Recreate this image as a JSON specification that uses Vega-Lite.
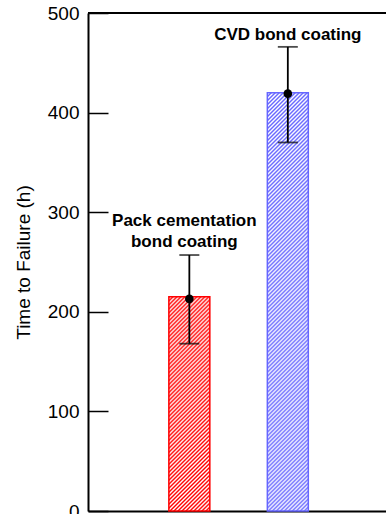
{
  "$schema": "https://vega.github.io/schema/vega-lite/v6.json",
  "width": 298,
  "height": 498,
  "autosize": {"type": "none"},
  "padding": {"left": 88, "top": 13, "right": 0, "bottom": 3},
  "background": "white",
  "config": {"view": {"stroke": null}, "font": "Liberation Sans"},
  "data": {
    "values": [
      {"coating": "Pack cementation bond coating", "label": "Pack cementation\nbond coating", "bar": 215, "mean": 213, "low": 168, "high": 257},
      {"coating": "CVD bond coating", "label": "CVD bond coating", "bar": 420, "mean": 419, "low": 370, "high": 466}
    ]
  },
  "layer": [
    {
      "transform": [{"filter": "datum.coating === 'Pack cementation bond coating'"}],
      "mark": {
        "type": "bar",
        "stroke": "#ff0000",
        "strokeWidth": 1.5,
        "fill": {
          "gradient": "linear", "x1": 0, "y1": 0, "x2": 0.2201, "y2": 1.1494,
          "stops": [
            {"offset":0,"color":"#f00"},{"offset":0.0078,"color":"#fff"},{"offset":0.0156,"color":"#f00"},{"offset":0.0234,"color":"#fff"},{"offset":0.0313,"color":"#f00"},{"offset":0.0391,"color":"#fff"},{"offset":0.0469,"color":"#f00"},{"offset":0.0547,"color":"#fff"},{"offset":0.0625,"color":"#f00"},{"offset":0.0703,"color":"#fff"},{"offset":0.0781,"color":"#f00"},{"offset":0.0859,"color":"#fff"},{"offset":0.0938,"color":"#f00"},{"offset":0.1016,"color":"#fff"},{"offset":0.1094,"color":"#f00"},{"offset":0.1172,"color":"#fff"},
            {"offset":0.125,"color":"#f00"},{"offset":0.1328,"color":"#fff"},{"offset":0.1406,"color":"#f00"},{"offset":0.1484,"color":"#fff"},{"offset":0.1563,"color":"#f00"},{"offset":0.1641,"color":"#fff"},{"offset":0.1719,"color":"#f00"},{"offset":0.1797,"color":"#fff"},{"offset":0.1875,"color":"#f00"},{"offset":0.1953,"color":"#fff"},{"offset":0.2031,"color":"#f00"},{"offset":0.2109,"color":"#fff"},{"offset":0.2188,"color":"#f00"},{"offset":0.2266,"color":"#fff"},{"offset":0.2344,"color":"#f00"},{"offset":0.2422,"color":"#fff"},
            {"offset":0.25,"color":"#f00"},{"offset":0.2578,"color":"#fff"},{"offset":0.2656,"color":"#f00"},{"offset":0.2734,"color":"#fff"},{"offset":0.2813,"color":"#f00"},{"offset":0.2891,"color":"#fff"},{"offset":0.2969,"color":"#f00"},{"offset":0.3047,"color":"#fff"},{"offset":0.3125,"color":"#f00"},{"offset":0.3203,"color":"#fff"},{"offset":0.3281,"color":"#f00"},{"offset":0.3359,"color":"#fff"},{"offset":0.3438,"color":"#f00"},{"offset":0.3516,"color":"#fff"},{"offset":0.3594,"color":"#f00"},{"offset":0.3672,"color":"#fff"},
            {"offset":0.375,"color":"#f00"},{"offset":0.3828,"color":"#fff"},{"offset":0.3906,"color":"#f00"},{"offset":0.3984,"color":"#fff"},{"offset":0.4063,"color":"#f00"},{"offset":0.4141,"color":"#fff"},{"offset":0.4219,"color":"#f00"},{"offset":0.4297,"color":"#fff"},{"offset":0.4375,"color":"#f00"},{"offset":0.4453,"color":"#fff"},{"offset":0.4531,"color":"#f00"},{"offset":0.4609,"color":"#fff"},{"offset":0.4688,"color":"#f00"},{"offset":0.4766,"color":"#fff"},{"offset":0.4844,"color":"#f00"},{"offset":0.4922,"color":"#fff"},
            {"offset":0.5,"color":"#f00"},{"offset":0.5078,"color":"#fff"},{"offset":0.5156,"color":"#f00"},{"offset":0.5234,"color":"#fff"},{"offset":0.5313,"color":"#f00"},{"offset":0.5391,"color":"#fff"},{"offset":0.5469,"color":"#f00"},{"offset":0.5547,"color":"#fff"},{"offset":0.5625,"color":"#f00"},{"offset":0.5703,"color":"#fff"},{"offset":0.5781,"color":"#f00"},{"offset":0.5859,"color":"#fff"},{"offset":0.5938,"color":"#f00"},{"offset":0.6016,"color":"#fff"},{"offset":0.6094,"color":"#f00"},{"offset":0.6172,"color":"#fff"},
            {"offset":0.625,"color":"#f00"},{"offset":0.6328,"color":"#fff"},{"offset":0.6406,"color":"#f00"},{"offset":0.6484,"color":"#fff"},{"offset":0.6563,"color":"#f00"},{"offset":0.6641,"color":"#fff"},{"offset":0.6719,"color":"#f00"},{"offset":0.6797,"color":"#fff"},{"offset":0.6875,"color":"#f00"},{"offset":0.6953,"color":"#fff"},{"offset":0.7031,"color":"#f00"},{"offset":0.7109,"color":"#fff"},{"offset":0.7188,"color":"#f00"},{"offset":0.7266,"color":"#fff"},{"offset":0.7344,"color":"#f00"},{"offset":0.7422,"color":"#fff"},
            {"offset":0.75,"color":"#f00"},{"offset":0.7578,"color":"#fff"},{"offset":0.7656,"color":"#f00"},{"offset":0.7734,"color":"#fff"},{"offset":0.7813,"color":"#f00"},{"offset":0.7891,"color":"#fff"},{"offset":0.7969,"color":"#f00"},{"offset":0.8047,"color":"#fff"},{"offset":0.8125,"color":"#f00"},{"offset":0.8203,"color":"#fff"},{"offset":0.8281,"color":"#f00"},{"offset":0.8359,"color":"#fff"},{"offset":0.8438,"color":"#f00"},{"offset":0.8516,"color":"#fff"},{"offset":0.8594,"color":"#f00"},{"offset":0.8672,"color":"#fff"},
            {"offset":0.875,"color":"#f00"},{"offset":0.8828,"color":"#fff"},{"offset":0.8906,"color":"#f00"},{"offset":0.8984,"color":"#fff"},{"offset":0.9063,"color":"#f00"},{"offset":0.9141,"color":"#fff"},{"offset":0.9219,"color":"#f00"},{"offset":0.9297,"color":"#fff"},{"offset":0.9375,"color":"#f00"},{"offset":0.9453,"color":"#fff"},{"offset":0.9531,"color":"#f00"},{"offset":0.9609,"color":"#fff"},{"offset":0.9688,"color":"#f00"},{"offset":0.9766,"color":"#fff"},{"offset":0.9844,"color":"#f00"},{"offset":0.9922,"color":"#fff"},
            {"offset":1,"color":"#f00"}
          ]
        }
      },
      "encoding": {
        "x": {
          "field": "coating",
          "type": "nominal",
          "sort": null,
          "scale": {"domain": ["Pack cementation bond coating", "CVD bond coating"], "paddingInner": 0.584, "paddingOuter": 0.805, "align": 0.51},
          "axis": {"orient": "bottom", "labels": false, "ticks": false, "title": null, "domainColor": "black", "domainWidth": 2}
        },
        "y": {
          "field": "bar",
          "type": "quantitative",
          "scale": {"domain": [0, 500], "nice": false, "zero": true},
          "axis": {
            "title": "Time to Failure (h)",
            "titleFontSize": 19,
            "titleFontWeight": "normal",
            "titleColor": "black",
            "titlePadding": 14,
            "values": [0, 100, 200, 300, 400, 500],
            "labelFontSize": 19,
            "labelColor": "black",
            "labelPadding": 29,
            "tickSize": -20,
            "tickWidth": 1.5,
            "tickColor": "black",
            "domainColor": "black",
            "domainWidth": 2,
            "grid": false
          }
        }
      }
    },
    {
      "transform": [{"filter": "datum.coating === 'CVD bond coating'"}],
      "mark": {
        "type": "bar",
        "stroke": "#6666ff",
        "strokeWidth": 1.5,
        "fill": {
          "gradient": "linear", "x1": 0, "y1": 0, "x2": 0.1066, "y2": 1.0876,
          "stops": [
            {"offset":0,"color":"#66f"},{"offset":0.0043,"color":"#fff"},{"offset":0.0087,"color":"#66f"},{"offset":0.013,"color":"#fff"},{"offset":0.0174,"color":"#66f"},{"offset":0.0217,"color":"#fff"},{"offset":0.0261,"color":"#66f"},{"offset":0.0304,"color":"#fff"},{"offset":0.0348,"color":"#66f"},{"offset":0.0391,"color":"#fff"},{"offset":0.0435,"color":"#66f"},{"offset":0.0478,"color":"#fff"},{"offset":0.0522,"color":"#66f"},{"offset":0.0565,"color":"#fff"},{"offset":0.0609,"color":"#66f"},{"offset":0.0652,"color":"#fff"},{"offset":0.0696,"color":"#66f"},{"offset":0.0739,"color":"#fff"},{"offset":0.0783,"color":"#66f"},{"offset":0.0826,"color":"#fff"},{"offset":0.087,"color":"#66f"},{"offset":0.0913,"color":"#fff"},{"offset":0.0957,"color":"#66f"},
            {"offset":0.1,"color":"#fff"},{"offset":0.1043,"color":"#66f"},{"offset":0.1087,"color":"#fff"},{"offset":0.113,"color":"#66f"},{"offset":0.1174,"color":"#fff"},{"offset":0.1217,"color":"#66f"},{"offset":0.1261,"color":"#fff"},{"offset":0.1304,"color":"#66f"},{"offset":0.1348,"color":"#fff"},{"offset":0.1391,"color":"#66f"},{"offset":0.1435,"color":"#fff"},{"offset":0.1478,"color":"#66f"},{"offset":0.1522,"color":"#fff"},{"offset":0.1565,"color":"#66f"},{"offset":0.1609,"color":"#fff"},{"offset":0.1652,"color":"#66f"},{"offset":0.1696,"color":"#fff"},{"offset":0.1739,"color":"#66f"},{"offset":0.1783,"color":"#fff"},{"offset":0.1826,"color":"#66f"},{"offset":0.187,"color":"#fff"},{"offset":0.1913,"color":"#66f"},{"offset":0.1957,"color":"#fff"},
            {"offset":0.2,"color":"#66f"},{"offset":0.2043,"color":"#fff"},{"offset":0.2087,"color":"#66f"},{"offset":0.213,"color":"#fff"},{"offset":0.2174,"color":"#66f"},{"offset":0.2217,"color":"#fff"},{"offset":0.2261,"color":"#66f"},{"offset":0.2304,"color":"#fff"},{"offset":0.2348,"color":"#66f"},{"offset":0.2391,"color":"#fff"},{"offset":0.2435,"color":"#66f"},{"offset":0.2478,"color":"#fff"},{"offset":0.2522,"color":"#66f"},{"offset":0.2565,"color":"#fff"},{"offset":0.2609,"color":"#66f"},{"offset":0.2652,"color":"#fff"},{"offset":0.2696,"color":"#66f"},{"offset":0.2739,"color":"#fff"},{"offset":0.2783,"color":"#66f"},{"offset":0.2826,"color":"#fff"},{"offset":0.287,"color":"#66f"},{"offset":0.2913,"color":"#fff"},{"offset":0.2957,"color":"#66f"},
            {"offset":0.3,"color":"#fff"},{"offset":0.3043,"color":"#66f"},{"offset":0.3087,"color":"#fff"},{"offset":0.313,"color":"#66f"},{"offset":0.3174,"color":"#fff"},{"offset":0.3217,"color":"#66f"},{"offset":0.3261,"color":"#fff"},{"offset":0.3304,"color":"#66f"},{"offset":0.3348,"color":"#fff"},{"offset":0.3391,"color":"#66f"},{"offset":0.3435,"color":"#fff"},{"offset":0.3478,"color":"#66f"},{"offset":0.3522,"color":"#fff"},{"offset":0.3565,"color":"#66f"},{"offset":0.3609,"color":"#fff"},{"offset":0.3652,"color":"#66f"},{"offset":0.3696,"color":"#fff"},{"offset":0.3739,"color":"#66f"},{"offset":0.3783,"color":"#fff"},{"offset":0.3826,"color":"#66f"},{"offset":0.387,"color":"#fff"},{"offset":0.3913,"color":"#66f"},{"offset":0.3957,"color":"#fff"},
            {"offset":0.4,"color":"#66f"},{"offset":0.4043,"color":"#fff"},{"offset":0.4087,"color":"#66f"},{"offset":0.413,"color":"#fff"},{"offset":0.4174,"color":"#66f"},{"offset":0.4217,"color":"#fff"},{"offset":0.4261,"color":"#66f"},{"offset":0.4304,"color":"#fff"},{"offset":0.4348,"color":"#66f"},{"offset":0.4391,"color":"#fff"},{"offset":0.4435,"color":"#66f"},{"offset":0.4478,"color":"#fff"},{"offset":0.4522,"color":"#66f"},{"offset":0.4565,"color":"#fff"},{"offset":0.4609,"color":"#66f"},{"offset":0.4652,"color":"#fff"},{"offset":0.4696,"color":"#66f"},{"offset":0.4739,"color":"#fff"},{"offset":0.4783,"color":"#66f"},{"offset":0.4826,"color":"#fff"},{"offset":0.487,"color":"#66f"},{"offset":0.4913,"color":"#fff"},{"offset":0.4957,"color":"#66f"},
            {"offset":0.5,"color":"#fff"},{"offset":0.5043,"color":"#66f"},{"offset":0.5087,"color":"#fff"},{"offset":0.513,"color":"#66f"},{"offset":0.5174,"color":"#fff"},{"offset":0.5217,"color":"#66f"},{"offset":0.5261,"color":"#fff"},{"offset":0.5304,"color":"#66f"},{"offset":0.5348,"color":"#fff"},{"offset":0.5391,"color":"#66f"},{"offset":0.5435,"color":"#fff"},{"offset":0.5478,"color":"#66f"},{"offset":0.5522,"color":"#fff"},{"offset":0.5565,"color":"#66f"},{"offset":0.5609,"color":"#fff"},{"offset":0.5652,"color":"#66f"},{"offset":0.5696,"color":"#fff"},{"offset":0.5739,"color":"#66f"},{"offset":0.5783,"color":"#fff"},{"offset":0.5826,"color":"#66f"},{"offset":0.587,"color":"#fff"},{"offset":0.5913,"color":"#66f"},{"offset":0.5957,"color":"#fff"},
            {"offset":0.6,"color":"#66f"},{"offset":0.6043,"color":"#fff"},{"offset":0.6087,"color":"#66f"},{"offset":0.613,"color":"#fff"},{"offset":0.6174,"color":"#66f"},{"offset":0.6217,"color":"#fff"},{"offset":0.6261,"color":"#66f"},{"offset":0.6304,"color":"#fff"},{"offset":0.6348,"color":"#66f"},{"offset":0.6391,"color":"#fff"},{"offset":0.6435,"color":"#66f"},{"offset":0.6478,"color":"#fff"},{"offset":0.6522,"color":"#66f"},{"offset":0.6565,"color":"#fff"},{"offset":0.6609,"color":"#66f"},{"offset":0.6652,"color":"#fff"},{"offset":0.6696,"color":"#66f"},{"offset":0.6739,"color":"#fff"},{"offset":0.6783,"color":"#66f"},{"offset":0.6826,"color":"#fff"},{"offset":0.687,"color":"#66f"},{"offset":0.6913,"color":"#fff"},{"offset":0.6957,"color":"#66f"},
            {"offset":0.7,"color":"#fff"},{"offset":0.7043,"color":"#66f"},{"offset":0.7087,"color":"#fff"},{"offset":0.713,"color":"#66f"},{"offset":0.7174,"color":"#fff"},{"offset":0.7217,"color":"#66f"},{"offset":0.7261,"color":"#fff"},{"offset":0.7304,"color":"#66f"},{"offset":0.7348,"color":"#fff"},{"offset":0.7391,"color":"#66f"},{"offset":0.7435,"color":"#fff"},{"offset":0.7478,"color":"#66f"},{"offset":0.7522,"color":"#fff"},{"offset":0.7565,"color":"#66f"},{"offset":0.7609,"color":"#fff"},{"offset":0.7652,"color":"#66f"},{"offset":0.7696,"color":"#fff"},{"offset":0.7739,"color":"#66f"},{"offset":0.7783,"color":"#fff"},{"offset":0.7826,"color":"#66f"},{"offset":0.787,"color":"#fff"},{"offset":0.7913,"color":"#66f"},{"offset":0.7957,"color":"#fff"},
            {"offset":0.8,"color":"#66f"},{"offset":0.8043,"color":"#fff"},{"offset":0.8087,"color":"#66f"},{"offset":0.813,"color":"#fff"},{"offset":0.8174,"color":"#66f"},{"offset":0.8217,"color":"#fff"},{"offset":0.8261,"color":"#66f"},{"offset":0.8304,"color":"#fff"},{"offset":0.8348,"color":"#66f"},{"offset":0.8391,"color":"#fff"},{"offset":0.8435,"color":"#66f"},{"offset":0.8478,"color":"#fff"},{"offset":0.8522,"color":"#66f"},{"offset":0.8565,"color":"#fff"},{"offset":0.8609,"color":"#66f"},{"offset":0.8652,"color":"#fff"},{"offset":0.8696,"color":"#66f"},{"offset":0.8739,"color":"#fff"},{"offset":0.8783,"color":"#66f"},{"offset":0.8826,"color":"#fff"},{"offset":0.887,"color":"#66f"},{"offset":0.8913,"color":"#fff"},{"offset":0.8957,"color":"#66f"},
            {"offset":0.9,"color":"#fff"},{"offset":0.9043,"color":"#66f"},{"offset":0.9087,"color":"#fff"},{"offset":0.913,"color":"#66f"},{"offset":0.9174,"color":"#fff"},{"offset":0.9217,"color":"#66f"},{"offset":0.9261,"color":"#fff"},{"offset":0.9304,"color":"#66f"},{"offset":0.9348,"color":"#fff"},{"offset":0.9391,"color":"#66f"},{"offset":0.9435,"color":"#fff"},{"offset":0.9478,"color":"#66f"},{"offset":0.9522,"color":"#fff"},{"offset":0.9565,"color":"#66f"},{"offset":0.9609,"color":"#fff"},{"offset":0.9652,"color":"#66f"},{"offset":0.9696,"color":"#fff"},{"offset":0.9739,"color":"#66f"},{"offset":0.9783,"color":"#fff"},{"offset":0.9826,"color":"#66f"},{"offset":0.987,"color":"#fff"},{"offset":0.9913,"color":"#66f"},{"offset":0.9957,"color":"#fff"},
            {"offset":1,"color":"#66f"}
          ]
        }
      },
      "encoding": {
        "x": {"field": "coating", "type": "nominal", "sort": null},
        "y": {"field": "bar", "type": "quantitative"}
      }
    },
    {
      "mark": {"type": "rule", "color": "black", "strokeWidth": 1.8},
      "encoding": {
        "x": {"field": "coating", "type": "nominal", "sort": null},
        "y": {"field": "low", "type": "quantitative"},
        "y2": {"field": "high"}
      }
    },
    {
      "mark": {"type": "tick", "color": "black", "size": 20, "thickness": 1.8},
      "encoding": {
        "x": {"field": "coating", "type": "nominal", "sort": null},
        "y": {"field": "low", "type": "quantitative"}
      }
    },
    {
      "mark": {"type": "tick", "color": "black", "size": 20, "thickness": 1.8},
      "encoding": {
        "x": {"field": "coating", "type": "nominal", "sort": null},
        "y": {"field": "high", "type": "quantitative"}
      }
    },
    {
      "mark": {"type": "point", "filled": true, "color": "black", "opacity": 1, "size": 75},
      "encoding": {
        "x": {"field": "coating", "type": "nominal", "sort": null},
        "y": {"field": "mean", "type": "quantitative"}
      }
    },
    {
      "mark": {"type": "rule", "color": "black", "strokeWidth": 2},
      "encoding": {"y": {"datum": 500}}
    },
    {
      "transform": [{"filter": "datum.coating === 'Pack cementation bond coating'"}],
      "mark": {"type": "text", "fontWeight": "bold", "fontSize": 17, "color": "black", "baseline": "bottom", "lineBreak": "\n", "lineHeight": 21, "dy": -25, "dx": -5},
      "encoding": {
        "x": {"field": "coating", "type": "nominal", "sort": null},
        "y": {"field": "high", "type": "quantitative"},
        "text": {"field": "label"}
      }
    },
    {
      "transform": [{"filter": "datum.coating === 'CVD bond coating'"}],
      "mark": {"type": "text", "fontWeight": "bold", "fontSize": 17, "color": "black", "baseline": "bottom", "dy": -3},
      "encoding": {
        "x": {"field": "coating", "type": "nominal", "sort": null},
        "y": {"field": "high", "type": "quantitative"},
        "text": {"field": "label"}
      }
    }
  ]
}
